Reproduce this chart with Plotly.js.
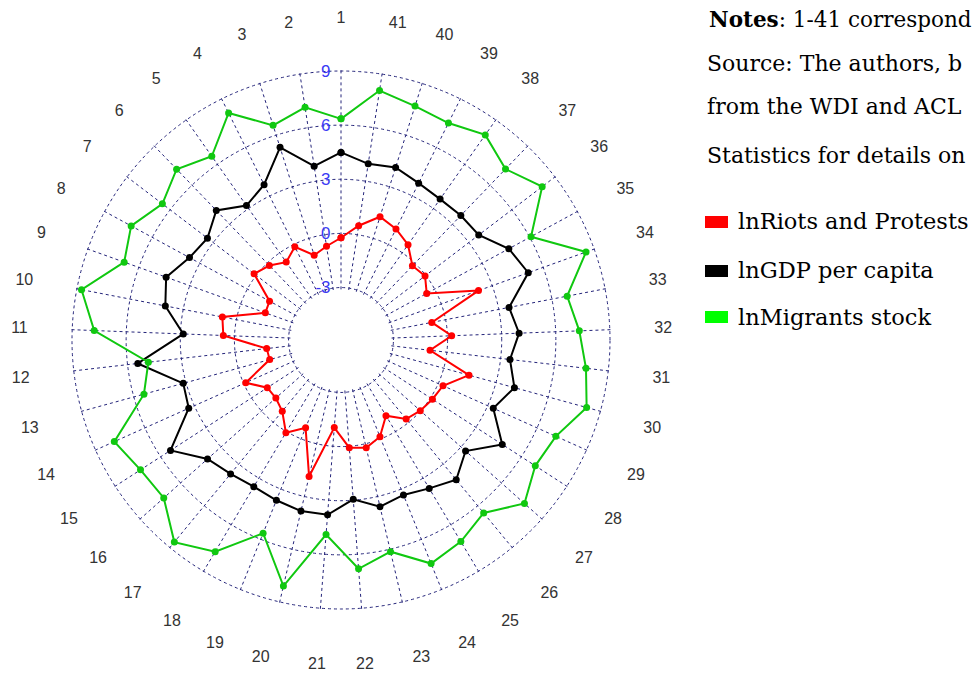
<!DOCTYPE html>
<html>
<head>
<meta charset="utf-8">
<script src="https://cdn.plot.ly/plotly-3.0.1.min.js"></script>
<style>
html,body{margin:0;padding:0;background:#fff;overflow:hidden;}
#chart{width:977px;height:674px;}
</style>
</head>
<body>
<div id="chart"></div>
<script>
const categories = ['1','2','3','4','5','6','7','8','9','10','11','12','13','14','15','16','17','18','19','20',
  '21','22','23','24','25','26','27','28','29','30','31','32','33','34','35','36','37','38','39','40','41'];

const lnRiots = [-0.24,-0.65,-0.98,-0.14,-0.63,-0.18,0.15,-1.40,-1.45,0.79,
  0.62,-1.76,-1.81,-0.12,-1.04,-1.07,-0.79,0.07,-0.66,1.86,
  -1.04,0.08,0.23,-0.13,-1.03,-0.23,-0.02,0.13,0.29,1.45,
  -0.94,0.23,-0.78,2.19,-0.50,-0.05,-0.20,0.55,0.96,1.26,0.50];

const lnGDP = [4.49,3.84,5.29,3.70,3.20,4.06,3.40,3.65,4.39,4.01,
  2.84,5.43,3.16,3.34,5.35,4.00,3.71,3.55,3.67,3.83,
  3.81,2.95,3.58,3.35,3.66,4.13,3.34,4.74,3.34,4.06,
  3.52,3.97,3.58,5.12,4.68,3.69,3.67,3.64,3.79,4.12,3.97];

const lnMigrants = [6.35,7.14,6.57,8.13,6.54,7.23,6.54,7.33,6.86,8.74,
  7.78,4.84,5.42,7.86,7.33,7.25,8.61,7.74,5.64,8.10,
  4.91,6.81,6.14,7.45,7.09,6.52,7.71,6.92,7.14,8.21,
  7.76,7.31,6.86,8.52,6.08,8.11,7.24,7.99,7.51,7.69,8.08];

const seriesNames = ['lnRiots and Protests','lnGDP per capita','lnMigrants stock'];
const radialTicks = [-3,0,3,6,9];
const noteLines = [
  '<b>Notes</b>: 1-41 correspond',
  'Source: The authors, b',
  'from the WDI and ACL',
  'Statistics for details on'
];

function closed(arr){ return arr.concat([arr[0]]); }

const lineColors = ['#ff0000','#000000','#10c810'];
const legendColors = ['#ff0000','#000000','#00ff00'];
const data = [lnRiots, lnGDP, lnMigrants].map((vals,i)=>({
  type:'scatterpolar',
  mode:'lines+markers',
  name: seriesNames[i],
  theta: closed(categories),
  r: closed(vals),
  line:{color:lineColors[i], width:2},
  marker:{color:lineColors[i], size:7},
  cliponaxis:false
}));

const gridCol = '#24247a';
const W = 977, H = 674;
const px = x => x/W, py = y => (H-y)/H;

const annotations = [];
const noteY = [19, 64, 106, 155];
const noteX = [707, 705, 705, 705];
const noteSize = [21.5, 22, 22, 22];
noteLines.forEach((t,i)=>annotations.push({
  xref:'paper', yref:'paper', x:px(noteX[i]), y:py(noteY[i]), xanchor:'left', yanchor:'middle',
  text:t, showarrow:false, align:'left',
  font:{family:'DejaVu Serif', size:noteSize[i], color:'#000'}
}));
const legY = [221, 270, 317];
const rectY = [[216,228],[265,277],[311,323]];
const shapes = [];
seriesNames.forEach((n,i)=>{
  annotations.push({
    xref:'paper', yref:'paper', x:px(736), y:py(legY[i]), xanchor:'left', yanchor:'middle',
    text:n, showarrow:false, font:{family:'DejaVu Serif', size:22.5, color:'#000'}
  });
  shapes.push({type:'rect', xref:'paper', yref:'paper', x0:px(705), x1:px(728),
    y0:py(rectY[i][1]), y1:py(rectY[i][0]), fillcolor:legendColors[i], line:{width:0}});
});

const layout = {
  width:W, height:H,
  margin:{l:0,r:0,t:0,b:0},
  paper_bgcolor:'#fff',
  showlegend:false,
  font:{family:'Liberation Sans, Arial, sans-serif'},
  polar:{
    domain:{x:[px(70.2), px(611.8)], y:[py(610.8), py(69.2)]},
    hole:0.187,
    bgcolor:'#fff',
    radialaxis:{
      range:[-3.1,9.1], tickmode:'array', tickvals:radialTicks, ticktext:radialTicks.map(String),
      angle:90, side:'counterclockwise', showline:false, tickangle:90,
      ticks:'outside', ticklen:4, tickcolor:'rgba(0,0,0,0)',
      gridcolor:gridCol, griddash:'dot', gridwidth:1,
      tickfont:{family:'Liberation Sans, Arial', size:17, color:'#3a3af5'}
    },
    angularaxis:{
      type:'category', categoryorder:'array', categoryarray:categories,
      rotation:90, direction:'counterclockwise',
      tickmode:'array', tickvals:categories, ticktext:categories,
      showline:false,
      ticks:'outside', ticklen:39, tickcolor:'rgba(0,0,0,0)',
      gridcolor:gridCol, griddash:'dot', gridwidth:1,
      tickfont:{family:'Liberation Sans, Arial', size:16, color:'#333333'}
    }
  },
  annotations:annotations,
  shapes:shapes
};

Plotly.newPlot('chart', data, layout, {displayModeBar:false, staticPlot:true});
</script>
</body>
</html>
